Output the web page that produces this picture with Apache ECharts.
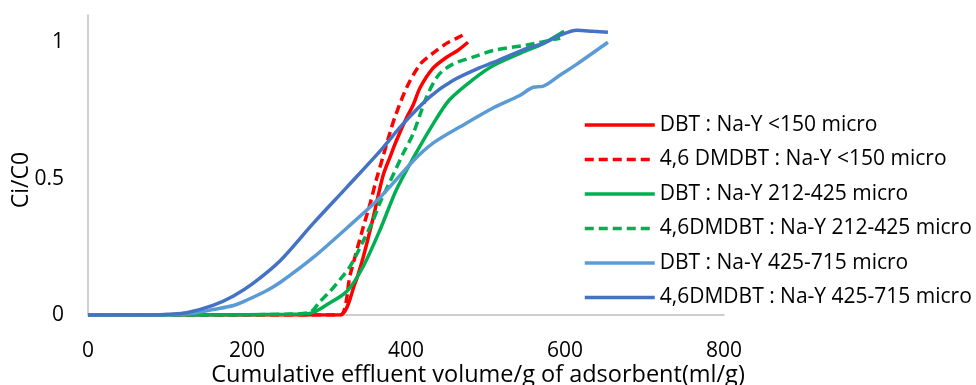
<!DOCTYPE html>
<html>
<head>
<meta charset="utf-8">
<script src="https://cdn.jsdelivr.net/npm/echarts@6/dist/echarts.min.js"></script>
<style>html,body{margin:0;padding:0;background:#fff}#c{width:976px;height:385px}</style>
</head>
<body>
<div id="c"></div>
<script>
const seriesNames = [
  'DBT : Na-Y <150 micro',
  '4,6 DMDBT : Na-Y <150 micro',
  'DBT : Na-Y 212-425 micro',
  '4,6DMDBT : Na-Y 212-425 micro',
  'DBT : Na-Y 425-715 micro',
  '4,6DMDBT : Na-Y 425-715 micro'
];
const xTitle = 'Cumulative effluent volume/g of adsorbent(ml/g)';
const yTitle = 'Ci/C0';
const xTicks = [0, 200, 400, 600, 800];
const yTickLabels = ['0', '0.5', '1'];

const dbt150X = [0, 100, 200, 280, 317, 336, 346, 359, 371, 380, 388, 401, 409, 418, 434, 451, 465, 478];
const dbt150Y = [0, 0, 0, 0, 0, 0.117, 0.21, 0.36, 0.51, 0.58, 0.64, 0.725, 0.77, 0.835, 0.905, 0.945, 0.97, 1.0];

const dmdbt150X = [0, 100, 200, 280, 317, 330, 346, 355, 363, 371, 380, 386, 401, 418, 434, 451, 464, 476];
const dmdbt150Y = [0, 0, 0, 0, 0, 0.15, 0.32, 0.41, 0.5, 0.58, 0.67, 0.725, 0.835, 0.92, 0.96, 0.996, 1.015, 1.033];

const dbt212X = [0, 150, 250, 279, 304, 326, 346, 367, 388, 409, 434, 455, 485, 510, 552, 573, 599];
const dbt212Y = [0, 0, 0.003, 0.006, 0.044, 0.088, 0.177, 0.31, 0.46, 0.575, 0.70, 0.79, 0.865, 0.915, 0.97, 0.996, 1.04];

const dmdbt212X = [0, 150, 250, 279, 292, 304, 317, 330, 346, 359, 367, 380, 388, 396, 409, 426, 441, 459, 489, 510, 552, 594];
const dmdbt212Y = [0, 0, 0.003, 0.01, 0.05, 0.085, 0.13, 0.18, 0.27, 0.35, 0.41, 0.49, 0.54, 0.59, 0.665, 0.80, 0.88, 0.92, 0.95, 0.97, 0.99, 1.015];

const dbt425X = [0, 100, 130, 157, 183, 200, 225, 242, 283, 326, 367, 409, 434, 468, 510, 543, 560, 572, 594, 615, 654];
const dbt425Y = [0, 0, 0.005, 0.02, 0.035, 0.055, 0.09, 0.12, 0.21, 0.32, 0.43, 0.565, 0.63, 0.69, 0.76, 0.805, 0.835, 0.838, 0.88, 0.92, 1.0];

const dmdbt425X = [0, 80, 100, 124, 157, 183, 208, 242, 283, 326, 367, 396, 430, 459, 493, 509, 552, 573, 594, 615, 636, 654];
const dmdbt425Y = [0, 0, 0.003, 0.008, 0.035, 0.07, 0.117, 0.2, 0.335, 0.47, 0.60, 0.70, 0.80, 0.86, 0.907, 0.925, 0.978, 0.996, 1.026, 1.044, 1.04, 1.037];

const colors = ['#FF0000', '#FF0000', '#00B050', '#00B050', '#5B9BD5', '#4472C4'];
const dashed = [false, true, false, true, false, false];
const xs = [dbt150X, dmdbt150X, dbt212X, dmdbt212X, dbt425X, dmdbt425X];
const ys = [dbt150Y, dmdbt150Y, dbt212Y, dmdbt212Y, dbt425Y, dmdbt425Y];

const font = '"Open Sans", sans-serif';
const series = seriesNames.map((name, i) => ({
  name: name,
  type: 'line',
  data: xs[i].map((x, j) => [x, ys[i][j]]),
  symbol: 'none',
  smooth: 0.3,
  lineStyle: { color: colors[i], width: 3.5, type: dashed[i] ? [9, 5] : 'solid', cap: 'butt' },
  itemStyle: { color: colors[i] },
  z: 2 + i
}));

const chart = echarts.init(document.getElementById('c'), null, { renderer: 'canvas' });
chart.setOption({
  animation: false,
  backgroundColor: '#fff',
  grid: { left: 88, right: 252, top: 15, bottom: 70, containLabel: false, outerBoundsMode: 'none' },
  xAxis: {
    type: 'value', min: xTicks[0], max: xTicks[xTicks.length - 1], interval: 200,
    axisLine: { show: true, lineStyle: { color: '#BFBFBF', width: 1.5 } },
    axisTick: { show: false },
    splitLine: { show: false },
    axisLabel: { fontFamily: font, fontSize: 21, color: '#000', margin: 26 }
  },
  yAxis: {
    type: 'value', min: 0, max: 1.1, interval: 0.5,
    axisLine: { show: true, lineStyle: { color: '#BFBFBF', width: 1.5 } },
    axisTick: { show: false },
    splitLine: { show: false },
    axisLabel: {
      fontFamily: font, fontSize: 21, color: '#000', margin: 24,
      formatter: v => { const k = Math.round(v / 0.5); return Math.abs(v - k * 0.5) < 1e-9 && k < yTickLabels.length ? yTickLabels[k] : ''; }
    }
  },
  graphic: [
    { type: 'text', x: 478, y: 375, z: 10,
      style: { text: xTitle, align: 'center', verticalAlign: 'middle', font: '23.5px "Open Sans", sans-serif', fill: '#000' } },
    { type: 'text', x: 21, y: 180, rotation: Math.PI / 2, z: 10,
      style: { text: yTitle, align: 'center', verticalAlign: 'middle', font: '23px "Open Sans", sans-serif', fill: '#000' } }
  ],
  legend: {
    data: seriesNames,
    orient: 'vertical', left: 583, top: 114, padding: 0,
    itemWidth: 70, itemHeight: 14, itemGap: 12.5,
    itemStyle: { opacity: 0, borderWidth: 0 },
    lineStyle: { width: 3.5 },
    textStyle: { fontFamily: font, fontSize: 21, color: '#000', lineHeight: 22 }
  },
  series: series
});
</script>
</body>
</html>
